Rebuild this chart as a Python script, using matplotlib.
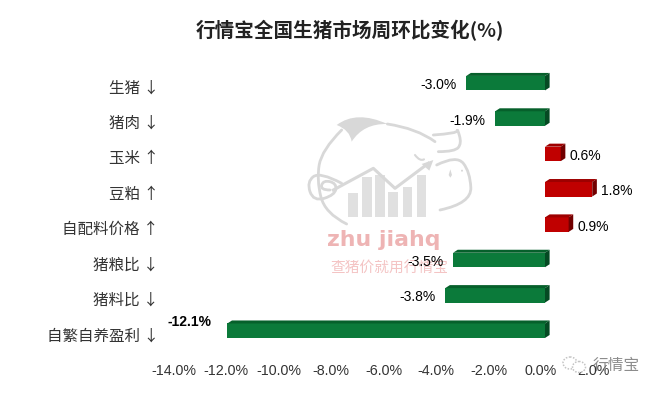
import matplotlib
matplotlib.use("Agg")
import matplotlib.pyplot as plt
from matplotlib.patches import Polygon, Rectangle, Circle, PathPatch, Ellipse
from matplotlib.path import Path
from matplotlib.transforms import ScaledTranslation

categories = ["生猪", "猪肉", "玉米", "豆粕", "自配料价格", "猪粮比", "猪料比", "自繁自养盈利"]
arrows = ["↓", "↓", "↑", "↑", "↑", "↓", "↓", "↓"]
values = [-3.0, -1.9, 0.6, 1.8, 0.9, -3.5, -3.8, -12.1]
xticks = [-14, -12, -10, -8, -6, -4, -2, 0, 2]
title = "行情宝全国生猪市场周环比变化(%)"

CJK = ["Noto Sans CJK SC", "DejaVu Sans"]
LAT = ["Liberation Sans", "DejaVu Sans"]
W, H = 660, 393
fig = plt.figure(figsize=(6.6, 3.93), dpi=100, facecolor="white")

# ---- watermark layer in pixel coordinates ----
bg = fig.add_axes([0, 0, 1, 1], zorder=0)
bg.set_xlim(0, W); bg.set_ylim(H, 0); bg.axis("off")
GR = "#d8d8d8"
def z(x, y):
    return (300 + x / 3, 100 + y / 3)
def curve(pts, **kw):
    verts = [z(*pts[0])]
    codes = [Path.MOVETO]
    for k in range(1, len(pts) - 1):
        c = pts[k]
        nxt = pts[k + 1]
        end = nxt if k == len(pts) - 2 else ((c[0] + nxt[0]) / 2, (c[1] + nxt[1]) / 2)
        verts += [z(*c), z(*end)]
        codes += [Path.CURVE3, Path.CURVE3]
    bg.add_patch(PathPatch(Path(verts, codes), fill=False, capstyle="round", **kw))
for x0, x1, top in [(145, 175, 280), (185, 215, 232), (225, 255, 225),
                    (265, 295, 275), (310, 335, 262), (350, 378, 225)]:
    a = z(x0, top); b = z(x1, 350)
    bg.add_patch(Rectangle(a, b[0] - a[0], b[1] - a[1], color="#e0e0e0", lw=0))
bg.plot(*zip(*[z(100, 270), z(220, 205), z(285, 265), z(385, 190)]), color=GR, lw=2.2)
bg.add_patch(Polygon([z(400, 180), z(365, 192), z(388, 212)], color=GR, lw=0))
bg.add_patch(PathPatch(Path([z(110, 75), z(170, 30), z(262, 72), z(190, 70), z(155, 125), z(150, 90), z(110, 75)],
                            [Path.MOVETO, Path.CURVE3, Path.CURVE3, Path.CURVE3, Path.CURVE3, Path.CURVE3, Path.CURVE3]),
                       color=GR, lw=0))
lk = dict(color=GR, lw=2.0)
curve([(125, 90), (65, 150), (50, 240), (75, 340), (140, 372)], **lk)
curve([(262, 72), (350, 85), (405, 125)], **lk)
curve([(400, 105), (472, 100), (472, 85), (485, 130), (465, 155), (415, 155)], **lk)
curve([(410, 195), (470, 165), (510, 215), (515, 310), (420, 330)], **lk)
curve([(125, 250), (60, 215), (20, 245), (40, 305), (105, 285), (110, 250), (70, 240), (60, 270), (90, 270)], **lk)
curve([(345, 165), (360, 185), (372, 178)], color=GR, lw=1.5)
bg.add_patch(Polygon([z(446, 225), z(451, 208), z(456, 225), z(451, 233)], color=GR, lw=0))
bg.add_patch(Circle(z(486, 212), 1.0, color=GR, lw=0))
bg.text(*z(250, 420), "zhu jiahq", color="#eeb4b4", fontsize=15.8, fontweight="bold",
        family=["DejaVu Sans"], ha="center", va="center")
bg.text(*z(268, 507), "查猪价就用行情宝", color="#f4c4c4", fontsize=10.6, family=CJK, ha="center", va="center")

# ---- chart ----
PX_PER_UNIT = 26.25
ZERO = 545.0
x_left = ZERO - 14 * PX_PER_UNIT
x_right = ZERO + 2 * PX_PER_UNIT
y_top, y_bot = 65.5, 348.4
ax = fig.add_axes([x_left / W, 1 - y_bot / H, (x_right - x_left) / W, (y_bot - y_top) / H], zorder=1)
ax.patch.set_alpha(0)
ax.set_xlim(-14, 2)
ax.set_ylim(len(values) - 0.5, -0.5)
for s in ax.spines.values():
    s.set_visible(False)

rows = range(len(values))
HEIGHT = 0.41
DX, DY = 4.6 / PX_PER_UNIT, 3.0 / 35.36
for i, v in zip(rows, values):
    left, right = min(v, 0), max(v, 0)
    front, top_c, side = ("#0b7a3a", "#06602b", "#054a23") if v < 0 else ("#c00000", "#9e0000", "#720000")
    ax.barh(i, right - left, left=left, height=HEIGHT, color=front, lw=0, zorder=3)
    t, b = i - HEIGHT / 2, i + HEIGHT / 2
    ax.add_patch(Polygon([(left, t), (left + DX, t - DY), (right + DX, t - DY), (right, t)],
                         color=top_c, lw=0, zorder=3))
    ax.add_patch(Polygon([(right, t), (right + DX, t - DY), (right + DX, b - DY), (right, b)],
                         color=side, lw=0, zorder=3))
    if v < 0:
        off = (-10, -2) if v > -12 else (-16, 9)
        ha = "right"
    else:
        off = (9, -2)
        ha = "left"
    off_pt = (off[0] * 0.72, off[1] * 0.72)
    ax.annotate(f"{v:.1f}%", (v, i), xytext=off_pt, textcoords="offset points", ha=ha, va="center",
                fontsize=10, family=LAT, color="black", zorder=4,
                fontweight="bold" if v < -12 else "normal")

ax.set_xticks(xticks)
ax.set_xticklabels([f"{t:.1f}%" for t in xticks], fontsize=10.3, family=LAT, color="#333333")
ax.set_yticks(list(rows))
ax.set_yticklabels([f"{c} {a}" for c, a in zip(categories, arrows)], fontsize=11.2, family=CJK, color="#333333")
ax.tick_params(axis="both", length=0)
ax.tick_params(axis="x", pad=11)
ax.tick_params(axis="y", pad=13.5)
shift_x = ScaledTranslation(-4 / 100, 0, fig.dpi_scale_trans)
shift_y = ScaledTranslation(0, -3 / 100, fig.dpi_scale_trans)
for lb in ax.get_xticklabels():
    lb.set_transform(lb.get_transform() + shift_x)
    lb.set_zorder(2)
for lb in ax.get_yticklabels():
    lb.set_transform(lb.get_transform() + shift_y)

# WeChat mark, lower right, drawn over the axis labels
top = fig.add_axes([0, 0, 1, 1], zorder=3)
top.set_xlim(0, W); top.set_ylim(H, 0); top.axis("off")
top.add_patch(Ellipse((570, 363), 14, 12, fc="white", ec="#c4c4c4", lw=1.1, ls=(0, (1, 1))))
top.add_patch(Ellipse((579, 367), 13, 11, fc="white", ec="#c4c4c4", lw=1.1, ls=(0, (1, 1))))
top.text(616.5, 365.5, "行情宝", color="#8c8c8c", fontsize=11.3, family=CJK, ha="center", va="center")

fig.text(350 / W, 1 - 31 / H, title, fontsize=14.1, fontweight="bold", family=CJK, color="#222222",
         ha="center", va="center")
fig.savefig("out.png", dpi=100)
